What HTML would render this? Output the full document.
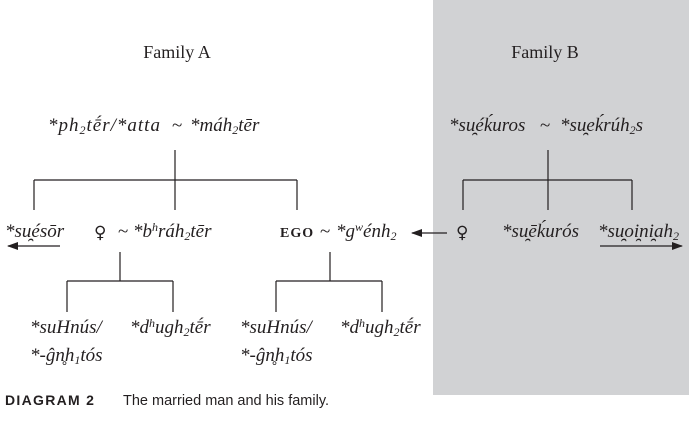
<!DOCTYPE html>
<html><head><meta charset="utf-8"><style>
html,body{margin:0;padding:0;background:#fff;}
svg{display:block;}
text{font-family:"Liberation Serif",serif;font-size:19px;fill:#231f20;}
.i{font-style:italic;}
.sup{font-size:12px;}
.sub{font-size:12px;}
.fem{font-family:"DejaVu Sans",sans-serif;font-size:17px;}
</style></head><body>
<svg width="697" height="437" viewBox="0 0 697 437" xmlns="http://www.w3.org/2000/svg">
<defs><marker id="ah" markerWidth="11" markerHeight="8" refX="10" refY="4" orient="auto" markerUnits="userSpaceOnUse"><path d="M0,0 L11,4 L0,8 Z" fill="#231f20"/></marker></defs>
<rect x="433" y="0" width="256" height="395" fill="#d1d2d4"/>
<g stroke="#231f20" stroke-width="1.2" fill="none">
<path d="M175,150 V180 M34,180 H297 M34,180 V210 M175,180 V210 M297,180 V210"/>
<path d="M548,150 V180 M463,180 H632 M463,180 V210 M548,180 V210 M632,180 V210"/>
<path d="M120,252 V281 M67,281 H173 M67,281 V312 M173,281 V312"/>
<path d="M330,252 V281 M276,281 H382 M276,281 V312 M382,281 V312"/>
<path d="M60,246 H8" marker-end="url(#ah)"/>
<path d="M447,233 H412" marker-end="url(#ah)"/>
<path d="M600,246 H682" marker-end="url(#ah)"/>
</g>
<text x="177" y="58" text-anchor="middle" style="font-size:18px">Family A</text>
<text x="545" y="58" text-anchor="middle" style="font-size:18px">Family B</text>
<text class="i" x="48" y="131" letter-spacing="1">*ph<tspan class="sub" dy="3">2</tspan><tspan dy="-3">tḗr/*atta</tspan></text>
<text x="172" y="131">~</text>
<text class="i" x="190" y="131">*máh<tspan class="sub" dy="3">2</tspan><tspan dy="-3">tēr</tspan></text>
<text class="i" x="449" y="131">*su̯éḱuros</text>
<text x="540" y="131">~</text>
<text class="i" x="560" y="131">*su̯eḱrúh<tspan class="sub" dy="3">2</tspan><tspan dy="-3">s</tspan></text>
<text class="i" x="5" y="237">*su̯ésōr</text>
<text class="fem" x="94" y="238">♀</text>
<text x="118" y="237">~</text>
<text class="i" x="133" y="237">*b<tspan class="sup" dy="-6">h</tspan><tspan dy="6">ráh</tspan><tspan class="sub" dy="3">2</tspan><tspan dy="-3">tēr</tspan></text>
<text x="280" y="237" font-weight="bold" style="font-size:14px;letter-spacing:1px">EGO</text>
<text x="320" y="237">~</text>
<text class="i" x="336" y="237">*g<tspan class="sup" dy="-6">w</tspan><tspan dy="6">énh</tspan><tspan class="sub" dy="3">2</tspan></text>
<text class="fem" x="456" y="238">♀</text>
<text class="i" x="502" y="237">*su̯ēḱurós</text>
<text class="i" x="598" y="237">*su̯oi̯ni̯ah<tspan class="sub" dy="3">2</tspan></text>
<text class="i" x="30" y="333">*suHnús/</text>
<text class="i" x="130" y="333">*d<tspan class="sup" dy="-6">h</tspan><tspan dy="6">ugh</tspan><tspan class="sub" dy="3">2</tspan><tspan dy="-3">tḗr</tspan></text>
<text class="i" x="30" y="361">*-ĝn̥h<tspan class="sub" dy="3">1</tspan><tspan dy="-3">tós</tspan></text>
<text class="i" x="240" y="333">*suHnús/</text>
<text class="i" x="340" y="333">*d<tspan class="sup" dy="-6">h</tspan><tspan dy="6">ugh</tspan><tspan class="sub" dy="3">2</tspan><tspan dy="-3">tḗr</tspan></text>
<text class="i" x="240" y="361">*-ĝn̥h<tspan class="sub" dy="3">1</tspan><tspan dy="-3">tós</tspan></text>
<text x="5" y="405" style="font-family:'Liberation Sans',sans-serif;font-size:14px;font-weight:bold;letter-spacing:1.3px">DIAGRAM 2</text>
<text x="123" y="405" style="font-family:'Liberation Sans',sans-serif;font-size:14.5px">The married man and his family.</text>
</svg>
</body></html>
